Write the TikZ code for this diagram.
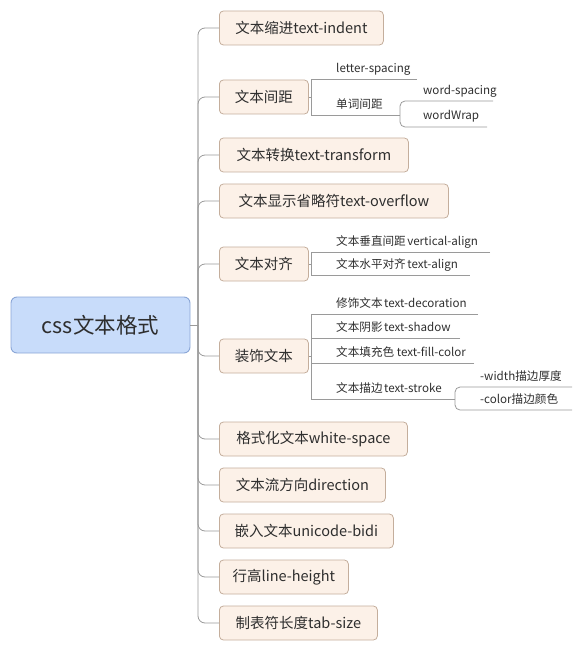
\documentclass[tikz,border=0pt]{standalone}
\usepackage{fontspec}
\setmainfont{Noto Sans CJK SC}
\definecolor{linegray}{HTML}{9A9A9A}
\definecolor{boxborder}{HTML}{C4AE9C}
\definecolor{boxfill}{HTML}{FCF1E8}
\definecolor{rootfill}{HTML}{C8DCFA}
\definecolor{rootborder}{HTML}{8AA6D6}
\definecolor{textgray}{HTML}{2E2E2E}
\newcommand{\gp}{\hspace{1.5pt}}
\begin{document}
\begin{tikzpicture}[x=1pt,y=-1pt,
  line/.style={draw=linegray, line width=0.8pt},
  rootbox/.style={draw=rootborder, fill=rootfill, rounded corners=6pt, minimum width=179pt, minimum height=56pt, inner sep=0pt, font=\fontsize{21.5}{25}\selectfont, text=textgray, line width=0.9pt},
  topic/.style={draw=boxborder, fill=boxfill, rounded corners=4pt, minimum height=34pt, inner sep=0pt, font=\fontsize{14.5}{17}\selectfont, text=textgray, anchor=west, line width=0.8pt},
  sub/.style={anchor=base west, inner sep=0pt, font=\fontsize{11.6}{13}\selectfont, text=textgray}
]
\useasboundingbox (0,0) rectangle (581,652);

\node[rootbox] (root) at (100.5,325) {css文本格式};

\node[topic, minimum width=164pt] (b1) at (219,28) {文本缩进text-indent};
\node[topic, minimum width=89pt] (b2) at (219,97) {文本间距};
\node[topic, minimum width=189pt] (b3) at (219,155) {文本转换text-transform};
\node[topic, minimum width=229pt] (b4) at (219,201) {文本显示省略符text-overflow};
\node[topic, minimum width=89pt] (b5) at (219,264) {文本对齐};
\node[topic, minimum width=89pt] (b6) at (219,356) {装饰文本};
\node[topic, minimum width=188pt] (b7) at (219,439) {格式化文本white-space};
\node[topic, minimum width=166pt] (b8) at (219,485) {文本流方向direction};
\node[topic, minimum width=174pt] (b9) at (219,531) {嵌入文本unicode-bidi};
\node[topic, minimum width=129pt] (b10) at (219,577) {行高line-height};
\node[topic, minimum width=158pt] (b11) at (219,623) {制表符长度tab-size};

\coordinate (fork) at (198,325);
\draw[line] (root.east) -- (fork);
\foreach \b in {b1,b2,b3,b4,b5,b6,b7,b8,b9,b10,b11}
  \draw[line, rounded corners=7pt] (fork) |- (\b.west);

% 文本间距
\node[sub] (s21) at (336,73) {letter-spacing};
\node[sub] (s22) at (336,109) {单词间距};
\node[sub] (s221) at (423,95) {word-spacing};
\node[sub] (s222) at (423,120) {wordWrap};
\coordinate (f2) at (311,97);
\coordinate (f22) at (400,115);
\draw[line] (b2.east) -- (f2);
\draw[line] (417,79) -- (311,79) -- (311,115) -- (f22);
\draw[line, rounded corners=5pt] (493,101) -- (400,101) -- (400,127) -- (487,127);

% 文本对齐
\node[sub] (s51) at (336,245) {文本垂直间距\gp vertical-align};
\node[sub] (s52) at (336,268) {文本水平对齐\gp text-align};
\coordinate (f5) at (311,264);
\draw[line] (b5.east) -- (f5);
\draw[line] (490,252) -- (311,252) -- (311,275) -- (470,275);

% 装饰文本
\node[sub] (s61) at (336,307) {修饰文本\gp text-decoration};
\node[sub] (s62) at (336,331) {文本阴影\gp text-shadow};
\node[sub] (s63) at (336,356) {文本填充色 text-fill-color};
\node[sub] (s64) at (336,392) {文本描边\gp text-stroke};
\node[sub] (s641) at (480,380) {-width描边厚度};
\node[sub] (s642) at (480,403) {-color描边颜色};
\coordinate (f6) at (311,356);
\coordinate (f64) at (455,399);
\draw[line] (b6.east) -- (f6);
\draw[line] (478,314) -- (311,314) -- (311,399) -- (f64);
\draw[line] (460,338) -- (311,338);
\draw[line] (474,363) -- (311,363);
\draw[line, rounded corners=5pt] (572,387) -- (455,387) -- (455,410) -- (572,410);
\end{tikzpicture}
\end{document}
